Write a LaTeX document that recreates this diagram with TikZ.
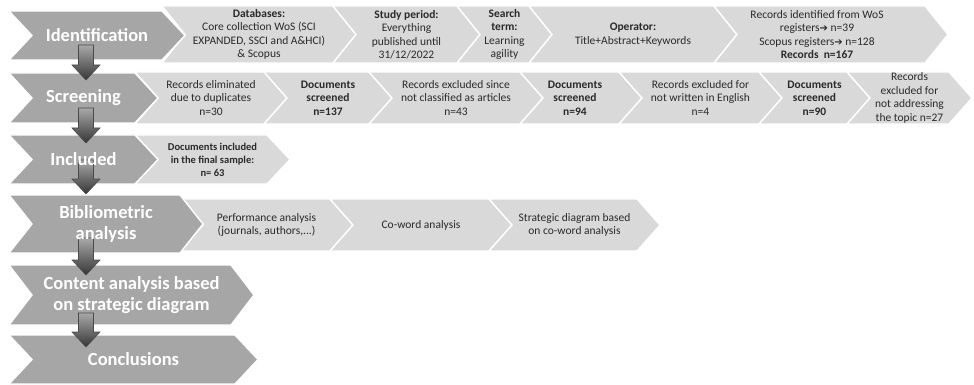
\documentclass[tikz,border=0pt]{standalone}
\usepackage{fontspec}
\setmainfont{Carlito}
\newfontfamily\symfont{DejaVu Sans}
\usetikzlibrary{calc}
\definecolor{chevdark}{HTML}{A6A6A6}
\definecolor{chevlight}{HTML}{D9D9D9}
\definecolor{infotext}{HTML}{2A2A2A}
\definecolor{arrtop}{HTML}{A8A8A8}
\definecolor{arrbot}{HTML}{363636}
\definecolor{arredge}{HTML}{4A4A4A}
\pgfdeclarelayer{chevs}
\pgfdeclarelayer{arrs}
\pgfsetlayers{chevs,arrs,main}
\tikzset{
  darkchev/.style={fill=chevdark, draw=white, line width=1.4pt, line join=miter},
  lightchev/.style={fill=chevlight, draw=white, line width=1.4pt, line join=miter},
  phase/.style={text=white, font=\fontsize{18.5}{20.5}\selectfont\bfseries, align=center, inner sep=0pt},
  info/.style={text=infotext, font=\fontsize{11.5}{13.5}\selectfont, align=center, inner sep=0pt},
  downarr/.style={top color=arrtop, bottom color=arrbot, draw=arredge, line width=0.6pt}
}
% chevron: style, left x, tip x, top y, bottom y, node name, node options, text
\newcommand\chev[8]{%
  \begin{pgfonlayer}{chevs}
    \path[#1] (#2,#4) -- ({#3-23},#4) -- (#3,{(#4+#5)/2}) -- ({#3-23},#5)
      -- (#2,#5) -- ({#2+23},{(#4+#5)/2}) -- cycle;
  \end{pgfonlayer}
  \node[#7] (#6) at ({(#2+#3)/2},{(#4+#5)/2}) {#8};
}
% block arrow pointing down from one named point to another
\newcommand\blockdown[2]{%
  \begin{pgfonlayer}{arrs}
    \path[downarr] let \p1=(#1), \p2=(#2) in
      ({\x1-7.5pt},\y1) -- ({\x1+7.5pt},\y1) -- ({\x1+7.5pt},{\y2+15pt})
      -- ({\x1+14pt},{\y2+15pt}) -- (\x1,\y2) -- ({\x1-14pt},{\y2+15pt})
      -- ({\x1-7.5pt},{\y2+15pt}) -- cycle;
  \end{pgfonlayer}
}
\newcommand\rarr{{\symfont\fontsize{10}{10}\selectfont ➔}}
\begin{document}
\begin{tikzpicture}[x=1pt, y=-1pt]
\useasboundingbox (0,0) rectangle (974,385);

% row 1: identification
\chev{lightchev}{162}{356}{6}{63}{db}{info}{\textbf{Databases:}\\Core collection WoS (SCI\\EXPANDED, SSCI and A\&HCI)\\\& Scopus}
\chev{lightchev}{333}{480}{6}{63}{period}{info}{\textbf{Study period:}\\Everything\\published until\\31/12/2022}
\chev{lightchev}{457}{552}{6}{63}{term}{info}{\textbf{Search}\\\textbf{term:}\\Learning\\agility}
\chev{lightchev}{529}{737}{6}{63}{oper}{info}{\textbf{Operator:}\\Title+Abstract+Keywords}
\chev{lightchev}{714}{948}{6}{63}{recs}{info,xshift=-14pt}{Records identified from WoS\\registers\rarr\ n=39\\Scopus registers\rarr\ n=128\\\textbf{Records\ \ n=167}}
\chev{darkchev}{9}{185}{11}{60}{ident}{phase}{Identification}

% row 2: screening
\chev{lightchev}{135}{287}{72}{124}{dup}{info}{Records eliminated\\due to duplicates\\n=30}
\chev{lightchev}{264}{392}{72}{124}{scr1}{info}{\textbf{Documents}\\\textbf{screened}\\\textbf{n=137}}
\chev{lightchev}{369}{543}{72}{124}{art}{info}{Records excluded since\\not classified as articles\\n=43}
\chev{lightchev}{520}{642}{72}{124}{scr2}{info,xshift=-6pt}{\textbf{Documents}\\\textbf{screened}\\\textbf{n=94}}
\chev{lightchev}{619}{782}{72}{124}{eng}{info}{Records excluded for\\not written in English\\n=4}
\chev{lightchev}{759}{870}{72}{124}{scr3}{info}{\textbf{Documents}\\\textbf{screened}\\\textbf{n=90}}
\chev{lightchev}{847}{972}{72}{124}{topic}{info}{Records\\excluded for\\not addressing\\the topic n=27}
\chev{darkchev}{9}{158}{73}{123}{screen}{phase}{Screening}

% row 3: included
\chev{lightchev}{135}{290}{135}{184}{sample}{info,font=\fontsize{10.5}{13}\selectfont\bfseries}{Documents included\\in the final sample:\\n= 63}
\chev{darkchev}{9}{158}{135}{184}{incl}{phase}{Included}

% row 4: bibliometric analysis
\chev{lightchev}{180}{353}{199}{251}{perf}{info}{Performance analysis\\(journals, authors,...)}
\chev{lightchev}{330}{512}{199}{251}{coword}{info}{Co-word analysis}
\chev{lightchev}{489}{660}{199}{251}{strat}{info}{Strategic diagram based\\on co-word analysis}
\chev{darkchev}{9}{203}{195}{253}{biblio}{phase}{Bibliometric\\analysis}

% rows 5 and 6
\chev{darkchev}{9}{254}{265}{325}{content}{phase}{Content analysis based\\on strategic diagram}
\chev{darkchev}{9}{258}{335}{384}{concl}{phase}{Conclusions}

% downward block arrows between the phases
\coordinate (a1s) at (86,45);  \coordinate (a1e) at (86,80);
\coordinate (a2s) at (86,108); \coordinate (a2e) at (86,143);
\coordinate (a3s) at (86,160); \coordinate (a3e) at (86,194);
\coordinate (a4s) at (86,238); \coordinate (a4e) at (86,275);
\coordinate (a5s) at (86,313); \coordinate (a5e) at (86,347);
\blockdown{a1s}{a1e}
\blockdown{a2s}{a2e}
\blockdown{a3s}{a3e}
\blockdown{a4s}{a4e}
\blockdown{a5s}{a5e}
\end{tikzpicture}
\end{document}
